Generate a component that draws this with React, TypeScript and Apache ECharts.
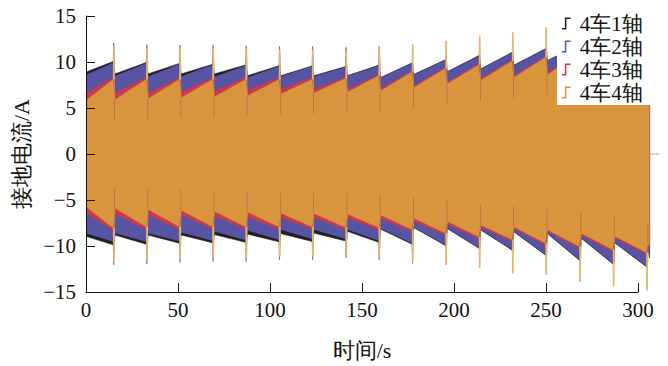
import React, { useEffect, useRef } from "react";
import * as echarts from "echarts";

// spike instants (s)
const SPIKE_T = [15.2, 33.2, 51.2, 69.2, 87.2, 105.3, 123.3, 141.5, 159.5, 177.6, 195.8, 214.0, 232.0, 250.2, 268.6, 286.8, 305.0];
const END_T = 306.3;
const TAIL_END_T = 311.5;

const NAMES = ["4车1轴", "4车2轴", "4车3轴", "4车4轴"];
const COLORS = ["#1e1e22", "#5854a4", "#c83a4c", "#d9953e"];
const SPIKE_COLOR = "#e4b872";
const STREAK_COLOR = "#8c6450";

// Envelope values per segment (18 segments: 17 before each spike + tail after last spike)
// 4车1轴
const S1_UP_START = [8.9, 8.7, 8.7, 8.7, 8.7, 8.5, 8.5, 8.5, 8.5, 8.3, 8.65, 8.95, 9.25, 9.65, 10.15, 10.45, 10.75, 10.8];
const S1_UP_END = [10.05, 9.95, 9.85, 9.75, 9.68, 9.6, 9.57, 9.5, 9.65, 9.9, 10.25, 10.7, 11.05, 11.45, 11.85, 12.25, 12.55, 10.8];
const S1_LO_START = [-8.95, -8.8, -8.8, -8.8, -8.75, -8.7, -8.65, -8.6, -8.4, -8.15, -8.0, -8.1, -8.25, -8.45, -8.65, -9.15, -9.65, -10.1];
const S1_LO_END = [-9.87, -9.8, -9.7, -9.65, -9.6, -9.55, -9.5, -9.45, -9.6, -9.8, -9.95, -10.25, -10.45, -11.0, -11.55, -11.95, -12.25, -11.3];
// 4车2轴
const S2_UP_START = [8.6, 8.45, 8.4, 8.4, 8.35, 8.3, 8.4, 8.4, 8.5, 8.25, 8.6, 8.9, 9.2, 9.6, 10.1, 10.4, 10.7, 10.7];
const S2_UP_END = [9.9, 9.85, 9.75, 9.7, 9.6, 9.5, 9.55, 9.45, 9.6, 9.85, 10.2, 10.6, 11.0, 11.4, 11.8, 12.2, 12.5, 10.7];
const S2_LO_START = [-8.6, -8.6, -8.6, -8.5, -8.4, -8.3, -8.2, -8.2, -8.2, -8.05, -7.95, -8.05, -8.2, -8.4, -8.6, -9.1, -9.6, -10.0];
const S2_LO_END = [-9.5, -9.5, -9.45, -9.4, -9.35, -9.3, -9.2, -9.2, -9.4, -9.7, -9.87, -10.2, -10.4, -10.96, -11.5, -11.9, -12.2, -11.2];
const S2_SPIKE_UP = [12.1, 11.9, 11.85, 11.85, 11.75, 11.7, 11.7, 11.6, 11.7, 9.85, 10.2, 10.6, 11.0, 11.4, 11.8, 12.2, 12.5];
const S2_SPIKE_LO = [-12.05, -11.97, -11.8, -11.7, -11.7, -11.5, -11.5, -11.3, -11.5, -11.9, -9.87, -10.2, -10.4, -10.96, -11.5, -11.9, -12.2];
// 4车3轴
const S3_UP_START = [6.6, 6.6, 6.6, 6.7, 6.8, 6.9, 7.0, 7.0, 7.0, 7.1, 7.4, 7.8, 8.2, 8.5, 8.8, 9.1, 9.4, 9.6];
const S3_UP_END = [8.3, 8.3, 8.3, 8.3, 8.3, 8.3, 8.3, 8.35, 8.6, 9.0, 9.4, 9.8, 10.2, 10.6, 11.0, 11.4, 11.7, 9.6];
const S3_LO_START = [-6.4, -6.5, -6.6, -6.6, -6.7, -6.8, -6.9, -6.9, -6.9, -7.0, -7.3, -7.6, -7.9, -8.1, -8.4, -8.8, -9.1, -9.9];
const S3_LO_END = [-8.3, -8.2, -8.2, -8.15, -8.15, -8.15, -8.15, -8.2, -8.25, -8.4, -8.8, -9.2, -9.5, -9.9, -10.25, -10.6, -10.9, -10.0];
// 4车4轴
const S4_UP_START = [5.8, 5.9, 6.0, 6.1, 6.2, 6.3, 6.5, 6.6, 6.7, 6.85, 7.2, 7.6, 8.0, 8.3, 8.6, 8.9, 9.2, 9.5];
const S4_UP_END = [8.1, 8.1, 8.1, 8.1, 8.1, 8.1, 8.1, 8.2, 8.5, 8.9, 9.3, 9.7, 10.1, 10.5, 10.9, 11.3, 11.6, 9.5];
const S4_LO_START = [-5.7, -5.87, -6.0, -6.1, -6.2, -6.3, -6.4, -6.45, -6.5, -6.6, -6.95, -7.3, -7.7, -7.9, -8.2, -8.6, -8.9, -9.8];
const S4_LO_END = [-8.05, -7.9, -7.9, -7.9, -7.9, -7.9, -7.9, -7.95, -8.0, -8.2, -8.6, -9.0, -9.3, -9.7, -10.05, -10.4, -10.7, -9.9];
const S4_SPIKE_UP = [11.75, 11.55, 11.5, 11.5, 11.4, 11.35, 11.35, 11.25, 11.6, 11.9, 12.3, 12.85, 13.2, 13.76, 14.1, 14.4, 14.6];
const S4_SPIKE_LO = [-11.7, -11.6, -11.45, -11.35, -11.35, -11.15, -11.15, -11.0, -11.3, -11.7, -12.05, -12.4, -12.95, -13.1, -13.9, -14.4, -14.8];

const X_TICKS = [0, 50, 100, 150, 200, 250, 300];
const Y_TICK_VALUES = [-15, -10, -5, 0, 5, 10, 15];
const Y_TICK_LABELS = ["−15", "−10", "−5", "0", "5", "10", "15"];

const STEP_ICON = "path://M0,11 L3,11 L3,0 L9,0 L9,1.6 L4.6,1.6 L4.6,12.6 L0,12.6 Z";

function envelope(startArr: number[], endArr: number[], spikes: number[] | null): any[] {
  const pts: any[] = [];
  for (let i = 0; i < SPIKE_T.length; i++) {
    const ts = i === 0 ? 0 : SPIKE_T[i - 1] + 0.5;
    const te = SPIKE_T[i] - 0.4;
    pts.push([ts, startArr[i]], [te, endArr[i]]);
    if (spikes) {
      pts.push([SPIKE_T[i] - 0.15, spikes[i]], [SPIKE_T[i] + 0.15, spikes[i]]);
    }
  }
  const last = SPIKE_T.length;
  pts.push([SPIKE_T[last - 1] + 0.5, startArr[last]], [END_T, endArr[last]], [END_T, 0]);
  return pts;
}

// thin light spike strokes, from the band edge to the spike peak
function spikeStrokes(baseArr: number[], peaks: number[]): any[] {
  const pts: any[] = [];
  for (let i = 0; i < SPIKE_T.length; i++) {
    pts.push([SPIKE_T[i], baseArr[i]], [SPIKE_T[i], peaks[i]], [SPIKE_T[i], "-"]);
  }
  return pts;
}

// darker streaks running into the band just after each spike
function streaks(fromArr: number[], toArr: number[]): any[] {
  const pts: any[] = [];
  for (let i = 0; i < SPIKE_T.length; i++) {
    const x = SPIKE_T[i] + 0.35;
    pts.push([x, fromArr[i + 1]], [x, toArr[i + 1]], [x, "-"]);
  }
  return pts;
}

const SERIES_DEF = [
  { up: envelope(S1_UP_START, S1_UP_END, null), lo: envelope(S1_LO_START, S1_LO_END, null) },
  { up: envelope(S2_UP_START, S2_UP_END, S2_SPIKE_UP), lo: envelope(S2_LO_START, S2_LO_END, S2_SPIKE_LO) },
  { up: envelope(S3_UP_START, S3_UP_END, null), lo: envelope(S3_LO_START, S3_LO_END, null) },
  { up: envelope(S4_UP_START, S4_UP_END, S4_SPIKE_UP), lo: envelope(S4_LO_START, S4_LO_END, S4_SPIKE_LO) },
];

const SERIF = "Liberation Serif";

const PX_PER_S = 552 / 300;

export default function App() {
  const ref = useRef<HTMLDivElement>(null);
  useEffect(() => {
    if (!ref.current) return;
    const chart = echarts.init(ref.current, null, { renderer: "svg" });
    const series: any[] = [];
    SERIES_DEF.forEach((s, k) => {
      [s.up, s.lo].forEach((data) => {
        series.push({
          name: NAMES[k],
          type: "line",
          xAxisIndex: 0,
          yAxisIndex: 0,
          data,
          color: COLORS[k],
          showSymbol: false,
          symbol: "none",
          silent: true,
          lineStyle: { width: 0.6, color: COLORS[k] },
          areaStyle: { color: COLORS[k], opacity: 1, origin: 0 },
          z: 2,
        });
      });
    });
    const lineBase = {
      type: "line",
      xAxisIndex: 0,
      yAxisIndex: 0,
      showSymbol: false,
      symbol: "none",
      silent: true,
      connectNulls: false,
      z: 3,
    };
    series.push({
      ...lineBase,
      name: "streaksUp",
      data: streaks(S4_UP_START, S4_UP_START.map((v, i) => S4_LO_START[i] * 0 + v - 2.2)),
      lineStyle: { width: 1, color: STREAK_COLOR, opacity: 0.55 },
    });
    series.push({
      ...lineBase,
      name: "streaksLo",
      data: streaks(S4_LO_START, S4_LO_START.map((v) => v + 2.2)),
      lineStyle: { width: 1, color: STREAK_COLOR, opacity: 0.55 },
    });
    series.push({
      ...lineBase,
      name: "spikesUp",
      data: spikeStrokes(S4_UP_END, S4_SPIKE_UP),
      lineStyle: { width: 1.6, color: SPIKE_COLOR },
    });
    series.push({
      ...lineBase,
      name: "spikesLo",
      data: spikeStrokes(S4_LO_END, S4_SPIKE_LO),
      lineStyle: { width: 1.6, color: SPIKE_COLOR },
    });
    series.push({
      ...lineBase,
      name: "tail",
      data: [[END_T, 0], [TAIL_END_T, 0]],
      lineStyle: { width: 1, color: "#a8a8a8" },
    });
    chart.setOption({
      animation: false,
      backgroundColor: "#ffffff",
      grid: [
        { left: 86, top: 16, width: PX_PER_S * TAIL_END_T, height: 276 },
        { left: 86, top: 16, width: 552, height: 276 },
      ],
      legend: {
        orient: "vertical",
        left: 557,
        top: 10,
        backgroundColor: "#ffffff",
        padding: [3, 12, 2, 5],
        itemGap: 2,
        itemWidth: 9,
        itemHeight: 12,
        textStyle: { fontSize: 21, lineHeight: 20, fontFamily: SERIF, color: "#111", padding: [0, 0, 0, 4] },
        data: NAMES.map((n) => ({ name: n, icon: STEP_ICON })),
        z: 10,
      },
      xAxis: [
        {
          type: "value",
          gridIndex: 0,
          min: 0,
          max: TAIL_END_T,
          show: false,
        },
        {
          type: "value",
          gridIndex: 1,
          min: X_TICKS[0],
          max: X_TICKS[X_TICKS.length - 1],
          interval: 50,
          name: "时间/s",
          nameLocation: "middle",
          nameGap: 47,
          nameTextStyle: { fontSize: 22, fontFamily: SERIF, color: "#111" },
          axisLine: { onZero: false, lineStyle: { color: "#111", width: 1 } },
          axisTick: { inside: true, length: 9, lineStyle: { color: "#111" } },
          axisLabel: { fontSize: 21, fontFamily: SERIF, color: "#111", margin: 7 },
          splitLine: { show: false },
          z: 5,
        },
      ],
      yAxis: [
        {
          type: "value",
          gridIndex: 0,
          min: -15,
          max: 15,
          interval: 5,
          name: "接地电流/A",
          nameLocation: "middle",
          nameGap: 51,
          nameTextStyle: { fontSize: 22, fontFamily: SERIF, color: "#111" },
          axisLine: { show: true, onZero: false, lineStyle: { color: "#111", width: 1 } },
          axisTick: { inside: true, length: 9, lineStyle: { color: "#111" } },
          axisLabel: {
            fontSize: 21,
            fontFamily: SERIF,
            color: "#111",
            margin: 10,
            formatter: (v: number) => Y_TICK_LABELS[Y_TICK_VALUES.indexOf(v)] ?? String(v),
          },
          splitLine: { show: false },
          z: 5,
        },
        {
          type: "value",
          gridIndex: 1,
          min: -15,
          max: 15,
          show: false,
        },
      ],
      series,
    });
    return () => chart.dispose();
  }, []);
  return (
    <div
      ref={ref}
      style={{ position: "fixed", left: 0, top: 0, width: 668, height: 366, background: "#fff" }}
    />
  );
}
